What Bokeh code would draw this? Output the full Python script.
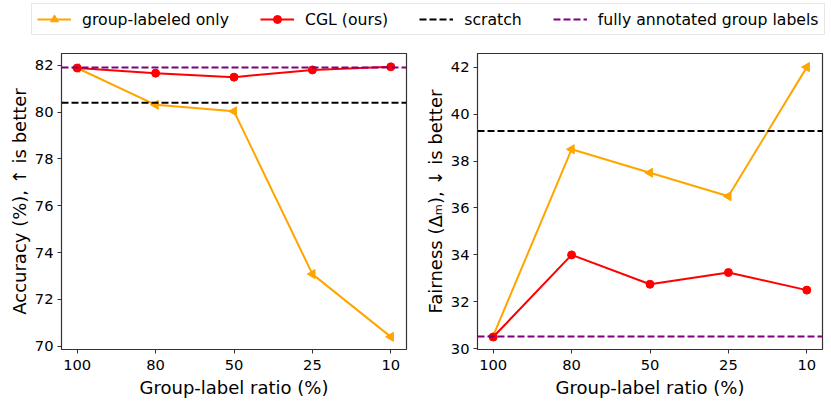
import numpy as np
from bokeh.plotting import figure
from bokeh.models import Range1d, FixedTicker, Legend, LegendItem, ColumnDataSource, Span
from bokeh.layouts import column, row
from bokeh.embed import file_html
from bokeh.resources import INLINE

# ---- data ----
ratios = ["100", "80", "50", "25", "10"]
acc_group_only = [81.88, 80.31, 80.03, 73.08, 70.40]
acc_cgl = [81.88, 81.66, 81.49, 81.80, 81.93]
acc_scratch = 80.40
acc_full = 81.90
fair_group_only = [30.55, 38.50, 37.50, 36.50, 42.00]
fair_cgl = [30.50, 34.00, 32.75, 33.25, 32.50]
fair_scratch = 39.28
fair_full = 30.52
acc_ticks = [70, 72, 74, 76, 78, 80, 82]
fair_ticks = [30, 32, 34, 36, 38, 40, 42]

labels = ["group-labeled only", "CGL (ours)", "scratch", "fully annotated group labels"]
ORANGE = "#FFA500"
RED = "#FF0000"
BLACK = "#000000"
PURPLE = "#800080"
FONT = "DejaVu Sans"
DASH = "7 3"
LEFT = np.pi / 2

xs = list(range(len(ratios)))
PH = 365


def make_panel(width, bl, br, ylo, yhi, yticks, ylabel, g_only, cgl, scratch, full):
    p = figure(width=width, height=PH, x_range=Range1d(-0.2, 4.2), y_range=Range1d(ylo, yhi),
               toolbar_location=None, output_backend="svg",
               min_border_left=bl, min_border_right=br, min_border_top=13, min_border_bottom=56)
    p.xgrid.visible = False
    p.ygrid.visible = False
    p.outline_line_color = "#333333"
    p.outline_line_width = 1.2
    p.background_fill_color = "white"
    p.border_fill_color = "white"

    p.xaxis.ticker = FixedTicker(ticks=xs)
    p.xaxis.major_label_overrides = {i: r for i, r in zip(xs, ratios)}
    p.yaxis.ticker = FixedTicker(ticks=yticks)
    for ax in (p.xaxis, p.yaxis):
        ax.axis_line_color = None
        ax.major_tick_in = 0
        ax.major_tick_out = 4
        ax.major_tick_line_color = "#333333"
        ax.minor_tick_line_color = None
        ax.major_label_text_font = FONT
        ax.major_label_text_font_size = "14.7px"
        ax.major_label_text_color = "black"
        ax.axis_label_text_font = FONT
        ax.axis_label_text_font_size = "18px"
        ax.axis_label_text_font_style = "normal"
        ax.axis_label_text_color = "black"
    p.xaxis.major_label_standoff = 6
    p.yaxis.major_label_standoff = 4
    p.xaxis.axis_label_standoff = 4
    p.yaxis.axis_label_standoff = 2
    p.xaxis.axis_label = "Group-label ratio (%)"
    p.yaxis.axis_label = ylabel

    src = ColumnDataSource(dict(x=xs, g=g_only, c=cgl))
    p.line("x", "g", source=src, line_color=ORANGE, line_width=2)
    p.scatter("x", "g", source=src, marker="triangle", angle=LEFT, size=9,
              fill_color=ORANGE, line_color=ORANGE)
    p.line("x", "c", source=src, line_color=RED, line_width=2)
    p.scatter("x", "c", source=src, marker="circle", size=8, fill_color=RED, line_color=RED)
    p.add_layout(Span(location=scratch, dimension="width", line_color=BLACK,
                      line_width=2, line_dash=DASH))
    p.add_layout(Span(location=full, dimension="width", line_color=PURPLE,
                      line_width=2, line_dash=DASH))
    return p


p1 = make_panel(414, 61, 8, 69.86, 82.50, acc_ticks, "Accuracy (%), \u2191 is better",
                acc_group_only, acc_cgl, acc_scratch, acc_full)
p2 = make_panel(411, 63, 3, 29.97, 42.58, fair_ticks, "Fairness (\u0394\u2098), \u2193 is better",
                fair_group_only, fair_cgl, fair_scratch, fair_full)

# ---- legend strip (proxy renderers use the real data, kept out of view) ----
pl = figure(width=825, height=40, toolbar_location=None, output_backend="svg",
            x_range=Range1d(1000, 1001), y_range=Range1d(1000, 1001),
            min_border=0, min_border_left=0, min_border_right=0, min_border_top=0, min_border_bottom=0)
pl.axis.visible = False
pl.xgrid.visible = False
pl.ygrid.visible = False
pl.outline_line_color = None
lsrc = ColumnDataSource(dict(x=xs, g=acc_group_only, c=acc_cgl, ang=[LEFT] * len(xs)))
lo = pl.line("x", "g", source=lsrc, line_color=ORANGE, line_width=2)
mo = pl.scatter("x", "g", source=lsrc, marker="triangle", angle="ang", size=9,
                fill_color=ORANGE, line_color=ORANGE)
lr = pl.line("x", "c", source=lsrc, line_color=RED, line_width=2)
mr = pl.scatter("x", "c", source=lsrc, marker="circle", size=8, fill_color=RED, line_color=RED)
lb = pl.line("x", "g", source=lsrc, line_color=BLACK, line_width=2, line_dash=DASH)
lp = pl.line("x", "c", source=lsrc, line_color=PURPLE, line_width=2, line_dash=DASH)
legend = Legend(items=[LegendItem(label=labels[0], renderers=[lo, mo], index=0),
                       LegendItem(label=labels[1], renderers=[lr, mr]),
                       LegendItem(label=labels[2], renderers=[lb]),
                       LegendItem(label=labels[3], renderers=[lp])],
                orientation="horizontal", location=(31, 5),
                label_text_font=FONT, label_text_font_size="15.7px", label_text_color="black",
                glyph_width=34, glyph_height=20, label_height=20, label_standoff=11, spacing=31,
                padding=5, margin=0,
                border_line_color="#d0d0d0", border_line_width=1,
                background_fill_color="white", background_fill_alpha=1)
pl.add_layout(legend, "center")

layout = column(pl, row(p1, p2, spacing=0), spacing=0)
open("out.html", "w").write(file_html(layout, INLINE))
